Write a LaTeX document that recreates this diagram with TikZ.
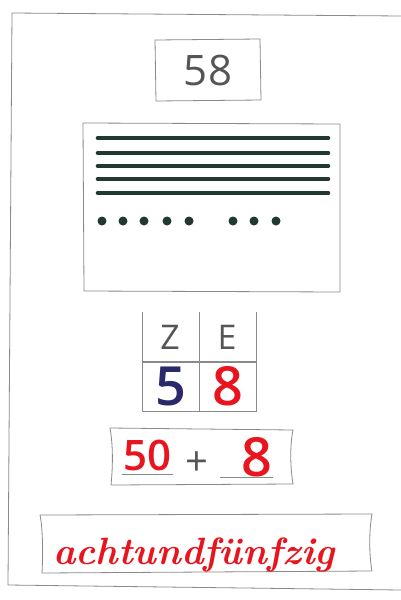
\documentclass[tikz,border=0pt]{standalone}
\usepackage{fontspec}
\setmainfont{Latin Modern Roman}
\newfontfamily\printfont{Open Sans}
\newfontfamily\penfont{Open Sans}[UprightFont=* Semibold]
\definecolor{penred}{HTML}{E8141E}
\definecolor{frame}{HTML}{8A8A8A}
\definecolor{bar}{HTML}{22392F}
\definecolor{ink}{HTML}{555555}
\definecolor{navy}{HTML}{2A2A6A}
\tikzset{
  boxline/.style={draw=frame, line width=0.8pt},
  printtxt/.style={text=ink, font=\printfont\fontsize{#1}{#1}\selectfont, inner sep=0pt},
  handtxt/.style={text=penred, font=\penfont\fontsize{#1}{#1}\selectfont, inner sep=0pt},
  tenbar/.style={draw=bar, line width=4.6pt, line cap=round},
  unitdot/.style={circle, fill=bar, minimum size=9pt, inner sep=0pt},
  underl/.style={draw=frame, line width=0.8pt}
}
\begin{document}
\begin{tikzpicture}[x=1pt,y=-1pt]
\useasboundingbox (0,0) rectangle (400,600);
\fill[white] (0,0) rectangle (400,600);
% outer frame
\draw[boxline] (401,16) -- (12,13) -- (8,585) -- (401,590);
% number box
\draw[boxline] (155,40) -- (260,39) -- (261,100) -- (156,101) -- cycle;
\node[printtxt=42] (num) at (208,70) {58};
% picture box
\draw[boxline] (83,123) -- (340,124) -- (340,292) -- (84,291) -- cycle;
\foreach \y [count=\i] in {138,153,166,179,193}{
  \coordinate (bl\i) at (98,\y);
  \coordinate (br\i) at (328,\y);
  \draw[tenbar] (bl\i) -- (br\i);
}
\foreach \x [count=\i] in {102,123,144,167,189,233,254,276}{
  \node[unitdot] (d\i) at (\x,221) {};
}
% place value table
\draw[boxline] (142,312) -- (142,411) -- (256,411) -- (256,312);
\draw[boxline] (199,312) -- (199,411);
\draw[draw=frame, line width=1.6pt] (142,362) -- (256,362);
\node[printtxt=34] (Z) at (170,337) {Z};
\node[printtxt=34] (E) at (227,337) {E};
\node[handtxt=54, text=navy] (five) at (171,386) {5};
\node[handtxt=54] (eight) at (228,386) {8};
% sum box
\draw[boxline] (110,428) .. controls (113,445) and (113,465) .. (111,485)
  -- (293,484) .. controls (290,465) and (290,445) .. (293,430) -- cycle;
\node[handtxt=42] (fifty) at (147,455) {50};
\draw[underl] (122,474) -- (173,474);
\node[printtxt=40] (plus) at (197,464) {+};
\node[handtxt=54] (eightb) at (257,457) {8};
\draw[underl] (220,477) -- (273,477);
% word box
\draw[boxline] (40,515) .. controls (43,530) and (43,555) .. (42,573)
  -- (372,571) .. controls (369,555) and (369,530) .. (372,514) -- cycle;
\node[text=penred, font=\bfseries\itshape\fontsize{38}{38}\selectfont, inner sep=0pt, anchor=base west] (word) at (53,564) {achtundfünfzig};
\end{tikzpicture}
\end{document}
